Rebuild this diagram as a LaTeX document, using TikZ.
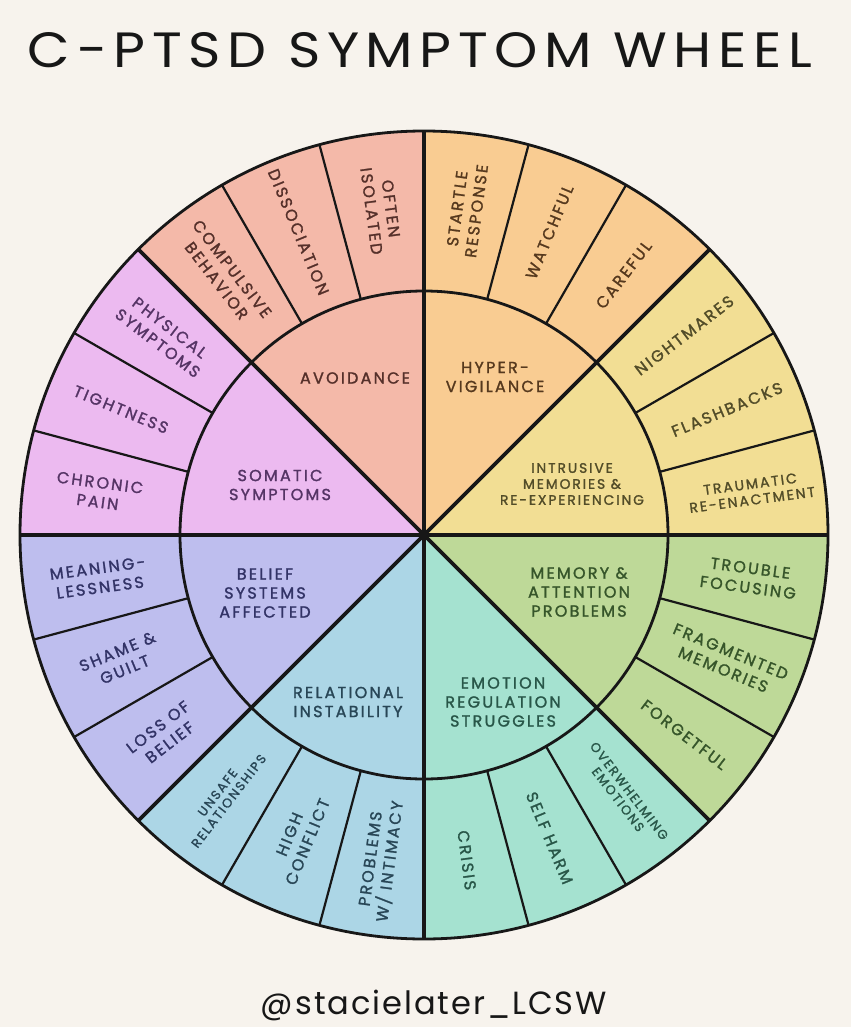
\documentclass[tikz,border=0pt]{standalone}
\usepackage{fontspec}
\setmainfont{Poppins}
\newfontfamily\hand[LetterSpace=14, FakeBold=1.5]{Poppins}
\newfontfamily\credfont[LetterSpace=6]{Poppins}
\newfontfamily\titlefont[LetterSpace=12]{Poppins}
\usetikzlibrary{calc}
\definecolor{bg}{HTML}{F7F3ED}
\definecolor{ink}{HTML}{171717}
\definecolor{cAv}{HTML}{F4B9A9}
\definecolor{cSo}{HTML}{ECBAF0}
\definecolor{cHy}{HTML}{F9CC92}
\definecolor{cIn}{HTML}{F2DE94}
\definecolor{cMe}{HTML}{BED998}
\definecolor{cEm}{HTML}{A5E2D0}
\definecolor{cRe}{HTML}{ACD6E6}
\definecolor{cBe}{HTML}{BEBEEE}
\definecolor{tAv}{HTML}{55302A}
\definecolor{tSo}{HTML}{553465}
\definecolor{tHy}{HTML}{56391E}
\definecolor{tIn}{HTML}{524C28}
\definecolor{tMe}{HTML}{36552A}
\definecolor{tEm}{HTML}{285648}
\definecolor{tRe}{HTML}{284656}
\definecolor{tBe}{HTML}{323366}
\tikzset{
  olab/.style={font=\hand\fontsize{16}{19.5}\selectfont, align=center, inner sep=0pt},
  mlab/.style={font=\hand\fontsize{14}{16}\selectfont, align=center, inner sep=0pt},
  slab/.style={font=\hand\fontsize{12.8}{14}\selectfont, align=center, inner sep=0pt},
  ilab/.style={font=\hand\fontsize{16}{19}\selectfont, align=center, inner sep=0pt},
  iilab/.style={font=\hand\fontsize{13.8}{16}\selectfont, align=center, inner sep=0pt},
  mainline/.style={line width=3.8pt, draw=ink},
  subline/.style={line width=2.2pt, draw=ink},
  ring/.style={line width=2.8pt, draw=ink},
}
\begin{document}
\begin{tikzpicture}[x=1pt,y=1pt]
\fill[bg] (0,0) rectangle (851,-1027);
\useasboundingbox (0,0) rectangle (851,-1027);
\coordinate (C) at (424,-535);
% sectors
\foreach \a/\c in {45/cHy,0/cIn,-45/cMe,-90/cEm,-135/cRe,180/cBe,135/cSo,90/cAv} {
  \fill[\c] (C) -- ++(\a:404) arc[start angle=\a, end angle=\a+45, radius=404] -- cycle;
}
% sub dividers
\foreach \a in {15,30,60,75,105,120,150,165,195,210,240,255,285,300,330,345}
  \draw[subline] ([shift={(\a:244)}]C) -- ([shift={(\a:404)}]C);
% main dividers
\foreach \a in {0,45,...,315}
  \draw[mainline] (C) -- ([shift={(\a:404)}]C);
\draw[ring] (C) circle[radius=244];
\draw[ring] (C) circle[radius=404];
% title and credit
\node[inner sep=0pt, text=ink] (title) at (420,-50.5)
  {\resizebox{784pt}{35pt}{\titlefont C-PTSD SYMPTOM WHEEL}};
\node[inner sep=0pt, text=ink, anchor=base] (credit) at (434,-1014)
  {\resizebox{346pt}{!}{\credfont\fontsize{26}{30}\selectfont @stacielater\_LCSW}};
% inner labels
\node[ilab, text=tAv] (iAv) at (355,-378) {AVOIDANCE};
\node[ilab, text=tHy] (iHy) at (495,-377) {HYPER-\\VIGILANCE};
\node[iilab, text=tIn] (iIn) at (572,-484) {INTRUSIVE\\MEMORIES \&\\RE-EXPERIENCING};
\node[ilab, text=tSo] (iSo) at (280,-485) {SOMATIC\\SYMPTOMS};
\node[ilab, text=tBe] (iBe) at (265,-593) {BELIEF\\SYSTEMS\\AFFECTED};
\node[ilab, text=tRe] (iRe) at (348,-702) {RELATIONAL\\INSTABILITY};
\node[ilab, text=tEm] (iEm) at (503,-702) {EMOTION\\REGULATION\\STRUGGLES};
\node[ilab, text=tMe] (iMe) at (579,-592) {MEMORY \&\\ATTENTION\\PROBLEMS};
% outer labels
\node[olab, text=tHy, rotate=82.5] (oHy1) at ([shift={(82.5:328)}]C) {STARTLE\\RESPONSE};
\node[olab, text=tHy, rotate=67.5] (oHy2) at ([shift={(67.5:328)}]C) {WATCHFUL};
\node[olab, text=tHy, rotate=52.5] (oHy3) at ([shift={(52.5:328)}]C) {CAREFUL};
\node[olab, text=tIn, rotate=37.5] (oIn1) at ([shift={(37.5:328)}]C) {NIGHTMARES};
\node[olab, text=tIn, rotate=22.5] (oIn2) at ([shift={(22.5:328)}]C) {FLASHBACKS};
\node[mlab, text=tIn, rotate=7.5] (oIn3) at ([shift={(7.5:330)}]C) {TRAUMATIC\\RE-ENACTMENT};
\node[olab, text=tMe, rotate=-7.5] (oMe1) at ([shift={(-7.5:328)}]C) {TROUBLE\\FOCUSING};
\node[olab, text=tMe, rotate=-22.5] (oMe2) at ([shift={(-22.5:328)}]C) {FRAGMENTED\\MEMORIES};
\node[olab, text=tMe, rotate=-37.5] (oMe3) at ([shift={(-37.5:328)}]C) {FORGETFUL};
\node[slab, text=tEm, rotate=-52.5] (oEm1) at ([shift={(-52.5:328)}]C) {OVERWHELMING\\EMOTIONS};
\node[olab, text=tEm, rotate=-67.5] (oEm2) at ([shift={(-67.5:328)}]C) {SELF HARM};
\node[olab, text=tEm, rotate=-82.5] (oEm3) at ([shift={(-82.5:328)}]C) {CRISIS};
\node[olab, text=tRe, rotate=82.5] (oRe1) at ([shift={(-97.5:328)}]C) {PROBLEMS\\W/ INTIMACY};
\node[olab, text=tRe, rotate=67.5] (oRe2) at ([shift={(-112.5:328)}]C) {HIGH\\CONFLICT};
\node[slab, text=tRe, rotate=52.5] (oRe3) at ([shift={(-127.5:330)}]C) {UNSAFE\\RELATIONSHIPS};
\node[olab, text=tBe, rotate=37.5] (oBe1) at ([shift={(-142.5:328)}]C) {LOSS OF\\BELIEF};
\node[olab, text=tBe, rotate=22.5] (oBe2) at ([shift={(-157.5:328)}]C) {SHAME \&\\GUILT};
\node[olab, text=tBe, rotate=7.5] (oBe3) at ([shift={(-172.5:328)}]C) {MEANING-\\LESSNESS};
\node[olab, text=tSo, rotate=-7.5] (oSo1) at ([shift={(172.5:328)}]C) {CHRONIC\\PAIN};
\node[olab, text=tSo, rotate=-22.5] (oSo2) at ([shift={(157.5:328)}]C) {TIGHTNESS};
\node[olab, text=tSo, rotate=-37.5] (oSo3) at ([shift={(142.5:328)}]C) {PHYSICAL\\SYMPTOMS};
\node[olab, text=tAv, rotate=-52.5] (oAv1) at ([shift={(127.5:328)}]C) {COMPULSIVE\\BEHAVIOR};
\node[olab, text=tAv, rotate=-67.5] (oAv2) at ([shift={(112.5:328)}]C) {DISSOCIATION};
\node[olab, text=tAv, rotate=-82.5] (oAv3) at ([shift={(97.5:328)}]C) {OFTEN\\ISOLATED};
\end{tikzpicture}
\end{document}
